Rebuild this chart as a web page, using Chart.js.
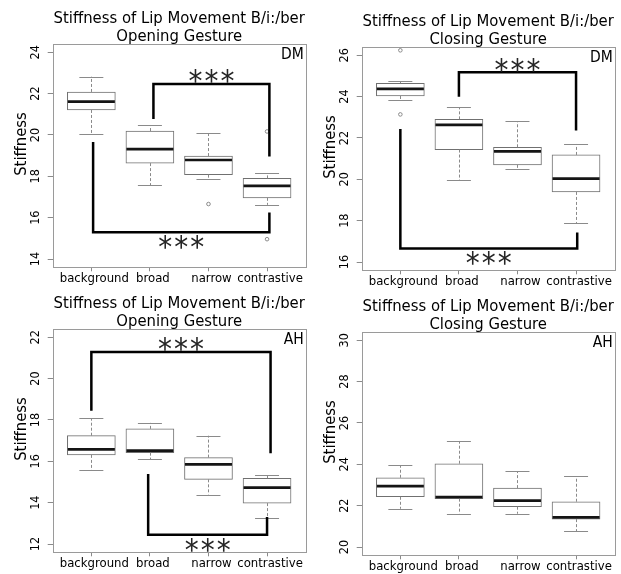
<!DOCTYPE html>
<html>
<head>
<meta charset="utf-8">
<script src="https://cdn.jsdelivr.net/npm/chart.js@4.4.1/dist/chart.umd.min.js"></script>
<style>
  html, body { margin: 0; padding: 0; background: #fff; overflow: hidden; }
  body { width: 621px; height: 574px; position: relative; }
  .panel { position: absolute; width: 312px; height: 287px; }
</style>
</head>
<body>
<div class="panel" style="left:0px;top:0px"><canvas id="dm-open" width="312" height="287"></canvas></div>
<div class="panel" style="left:309px;top:3px"><canvas id="dm-close" width="312" height="287"></canvas></div>
<div class="panel" style="left:0px;top:285px"><canvas id="ah-open" width="312" height="287"></canvas></div>
<div class="panel" style="left:309px;top:288px"><canvas id="ah-close" width="312" height="287"></canvas></div>
<script>
// values
const categories = ['background', 'broad', 'narrow', 'contrastive'];
const titleLine1 = 'Stiffness of Lip Movement B/i:/ber';

// each box: [lower whisker, Q1, median, Q3, upper whisker]
const dmOpenStats = [
    [20.03, 21.21, 21.61, 22.08, 22.82],
    [17.58, 18.64, 19.32, 20.19, 20.47],
    [17.87, 18.08, 18.79, 18.98, 20.10],
    [16.62, 16.96, 17.54, 17.90, 18.14]
];
const dmOpenOutliers = [[], [], [16.66], [14.96, 20.17]];
const dmOpenRange = [13.6, 24.4];
const dmOpenTicks = [14, 16, 18, 20, 22, 24];
// bracket: [from category, to category, level, end of left leg, end of right leg]
const dmOpenBrackets = [
    [2.06, 4.04, 22.47, 20.77, 18.96],
    [1.03, 4.04, 15.30, 19.66, 16.25]
];

const dmCloseStats = [
    [23.86, 24.03, 24.37, 24.64, 24.74],
    [19.97, 21.44, 22.63, 22.90, 23.48],
    [20.50, 20.70, 21.35, 21.55, 22.82],
    [17.89, 19.39, 20.03, 21.18, 21.71]
];
const dmCloseOutliers = [[26.24, 23.14], [], [], []];
const dmCloseRange = [15.6, 26.4];
const dmCloseTicks = [16, 18, 20, 22, 24, 26];
const dmCloseBrackets = [
    [2.00, 4.00, 25.18, 23.99, 22.36],
    [1.00, 4.02, 16.66, 22.44, 17.43]
];

const ahOpenStats = [
    [15.56, 16.31, 16.58, 17.24, 18.08],
    [16.11, 16.42, 16.52, 17.57, 17.86],
    [14.39, 15.13, 15.85, 16.18, 17.24],
    [13.27, 13.98, 14.73, 15.18, 15.34]
];
const ahOpenOutliers = [[], [], [], []];
const ahOpenRange = [11.6, 22.4];
const ahOpenTicks = [12, 14, 16, 18, 20, 22];
const ahOpenBrackets = [
    [1.00, 4.06, 21.29, 18.45, 16.39],
    [1.97, 4.00, 12.45, 15.39, 13.31]
];

const ahCloseStats = [
    [21.85, 22.43, 22.95, 23.35, 23.96],
    [21.61, 22.34, 22.42, 24.03, 25.13],
    [21.61, 21.95, 22.24, 22.85, 23.67],
    [20.77, 21.35, 21.43, 22.19, 23.42]
];
const ahCloseOutliers = [[], [], [], []];
const ahCloseRange = [19.6, 30.4];
const ahCloseTicks = [20, 22, 24, 26, 28, 30];
const ahCloseBrackets = [];

const FONT = "'DejaVu Sans Condensed', 'DejaVu Sans', sans-serif";
const GRAY = '#8a8a8a';

// whiskers, medians, frame, significance brackets and the text around the plot
const boxExtras = {
    id: 'boxExtras',
    afterDatasetsDraw(chart, args, opts) {
        const ctx = chart.ctx;
        const xs = chart.scales.x, ys = chart.scales.y;
        const area = chart.chartArea;
        ctx.save();

        opts.stats.forEach((s, i) => {
            const cx = xs.getPixelForValue(i + 1);
            const half = opts.boxWidth / 2;
            const capHalf = opts.boxWidth / 4;
            const px = Math.round(cx) + 0.5;
            // dashed whiskers
            ctx.strokeStyle = GRAY;
            ctx.lineWidth = 1;
            ctx.setLineDash([3, 2]);
            ctx.beginPath();
            ctx.moveTo(px, ys.getPixelForValue(s[3]));
            ctx.lineTo(px, ys.getPixelForValue(s[4]));
            ctx.moveTo(px, ys.getPixelForValue(s[1]));
            ctx.lineTo(px, ys.getPixelForValue(s[0]));
            ctx.stroke();
            ctx.setLineDash([]);
            // caps
            ctx.beginPath();
            [s[0], s[4]].forEach(v => {
                const py = Math.round(ys.getPixelForValue(v)) + 0.5;
                ctx.moveTo(cx - capHalf, py);
                ctx.lineTo(cx + capHalf, py);
            });
            ctx.stroke();
            // median
            ctx.strokeStyle = '#151515';
            ctx.lineWidth = 2.7;
            ctx.beginPath();
            const my = ys.getPixelForValue(s[2]);
            ctx.moveTo(cx - half + 0.5, my);
            ctx.lineTo(cx + half - 0.5, my);
            ctx.stroke();
        });

        // frame
        ctx.strokeStyle = '#9a9a9a';
        ctx.lineWidth = 1;
        ctx.strokeRect(Math.round(area.left) + 0.5, Math.round(area.top) + 0.5,
            Math.round(area.right - area.left), Math.round(area.bottom - area.top));

        // significance brackets
        opts.brackets.forEach(b => {
            const x1 = xs.getPixelForValue(b[0]);
            const x2 = xs.getPixelForValue(b[1]);
            const yl = ys.getPixelForValue(b[2]);
            ctx.strokeStyle = '#000';
            ctx.lineWidth = 2.5;
            ctx.lineJoin = 'miter';
            ctx.beginPath();
            ctx.moveTo(x1, ys.getPixelForValue(b[3]));
            ctx.lineTo(x1, yl);
            ctx.lineTo(x2, yl);
            ctx.lineTo(x2, ys.getPixelForValue(b[4]));
            ctx.stroke();
            // three asterisks, glyph centres placed just above / below the bar
            const above = b[2] > b[3];
            const sx = (x1 + x2) / 2;
            const sy = above ? yl - 7.5 : yl + 10;
            ctx.fillStyle = '#262626';
            ctx.font = '31px ' + FONT;
            ctx.textAlign = 'center';
            ctx.textBaseline = 'alphabetic';
            const m = ctx.measureText('*');
            const base = sy + (m.actualBoundingBoxAscent - m.actualBoundingBoxDescent) / 2;
            [-1, 0, 1].forEach(k => ctx.fillText('*', sx + k * 16, base));
        });

        // speaker tag
        ctx.fillStyle = '#000';
        ctx.font = '15.5px ' + FONT;
        ctx.textAlign = 'right';
        ctx.textBaseline = 'alphabetic';
        ctx.fillText(opts.tag, area.right - 2, area.top + 14.5);

        // title, centred over the plot area
        ctx.font = '16.5px ' + FONT;
        ctx.textAlign = 'center';
        const tx = (area.left + area.right) / 2;
        ctx.fillText(titleLine1, tx, 22.7);
        ctx.fillText(opts.subtitle, tx, 40.7);

        // y axis label
        ctx.save();
        ctx.translate(22, 144);
        ctx.rotate(-Math.PI / 2);
        ctx.textBaseline = 'middle';
        ctx.font = '16.5px ' + FONT;
        ctx.fillText('Stiffness', 0, 0);
        ctx.restore();

        ctx.restore();
    }
};

function makePanel(id, subtitle, tag, stats, outliers, range, yTicks, brackets) {
    const boxWidth = 48;
    const outlierPoints = [];
    outliers.forEach((list, i) => list.forEach(v => outlierPoints.push({ x: i + 1, y: v })));

    return new Chart(document.getElementById(id), {
        type: 'bar',
        data: {
            datasets: [{
                label: 'IQR',
                data: stats.map((s, i) => ({ x: i + 1, y: [s[1], s[3]] })),
                backgroundColor: '#ffffff',
                borderColor: '#707070',
                borderWidth: 1,
                borderSkipped: false,
                barThickness: boxWidth,
                grouped: false
            }, {
                type: 'scatter',
                label: 'outliers',
                data: outlierPoints,
                pointRadius: 1.8,
                pointBorderWidth: 1,
                pointBackgroundColor: '#ffffff',
                pointBorderColor: '#8a8a8a'
            }]
        },
        options: {
            responsive: false,
            animation: false,
            devicePixelRatio: 1,
            layout: { padding: { left: 0, right: 6.3, top: 44, bottom: 0 } },
            plugins: {
                legend: { display: false },
                tooltip: { enabled: false },
                boxExtras: { stats, brackets, tag, subtitle, boxWidth }
            },
            scales: {
                x: {
                    type: 'linear',
                    min: 0.34,
                    max: 4.66,
                    offset: false,
                    afterBuildTicks: s => { s.ticks = categories.map((c, i) => ({ value: i + 1 })); },
                    afterFit: s => { s.height = 19.7; },
                    ticks: {
                        callback: (v, i) => categories[i],
                        autoSkip: false,
                        minRotation: 0,
                        maxRotation: 0,
                        padding: 0,
                        labelOffset: 3,
                        color: '#000',
                        font: { family: FONT, size: 13 }
                    },
                    grid: { drawOnChartArea: false, offset: false, tickLength: 4, color: GRAY },
                    border: { display: false }
                },
                y: {
                    min: range[0],
                    max: range[1],
                    afterBuildTicks: s => { s.ticks = yTicks.map(v => ({ value: v })); },
                    afterFit: s => { s.width = 52.7; },
                    ticks: {
                        minRotation: 90,
                        maxRotation: 90,
                        crossAlign: 'center',
                        padding: 5,
                        color: '#000',
                        font: { family: FONT, size: 12.5 }
                    },
                    grid: { drawOnChartArea: false, tickLength: 5, color: GRAY },
                    border: { display: false }
                }
            }
        },
        plugins: [boxExtras]
    });
}

makePanel('dm-open', 'Opening Gesture', 'DM', dmOpenStats, dmOpenOutliers, dmOpenRange, dmOpenTicks, dmOpenBrackets);
makePanel('dm-close', 'Closing Gesture', 'DM', dmCloseStats, dmCloseOutliers, dmCloseRange, dmCloseTicks, dmCloseBrackets);
makePanel('ah-open', 'Opening Gesture', 'AH', ahOpenStats, ahOpenOutliers, ahOpenRange, ahOpenTicks, ahOpenBrackets);
makePanel('ah-close', 'Closing Gesture', 'AH', ahCloseStats, ahCloseOutliers, ahCloseRange, ahCloseTicks, ahCloseBrackets);
</script>
</body>
</html>
